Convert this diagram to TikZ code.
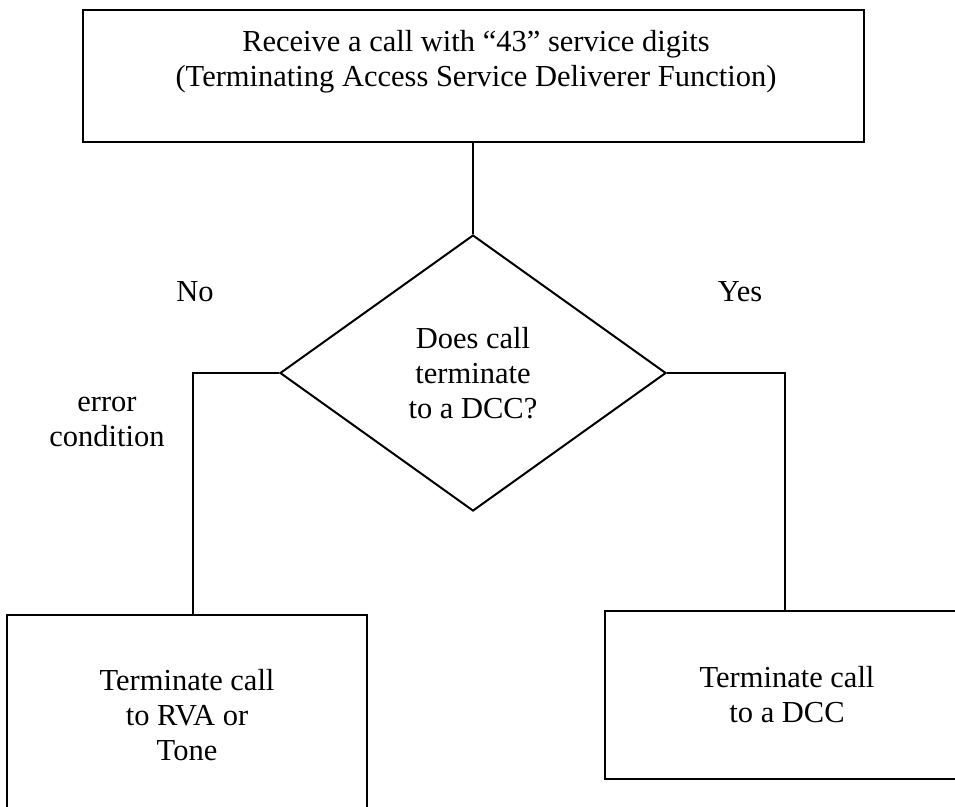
\documentclass[tikz,border=0pt]{standalone}
\usepackage{fontspec}
\setmainfont{Liberation Serif}
\usetikzlibrary{shapes.geometric}
\begin{document}
\begin{tikzpicture}[x=1pt,y=-1pt,
  every node/.style={font=\fontsize{30.5}{35}\selectfont},
  frame/.style={draw, line width=2pt, rectangle, inner sep=0pt, align=center},
  decision/.style={draw, line width=2pt, diamond, inner sep=0pt, align=center,
                   minimum width=386pt, minimum height=276pt},
  caption/.style={align=center, inner sep=0pt},
  link/.style={line width=2pt}]
\useasboundingbox (0,0) rectangle (955,806);

% entry box and its two-line caption
\node[frame, minimum width=781pt, minimum height=132pt] (start) at (473,76) {};
\node[caption] (starttext) at (476,62)
  {Receive a call with “43” service digits\\(Terminating Access Service Deliverer Function)};

% decision
\node[decision] (ask) at (473,373) {Does call\\terminate\\to a DCC?};

% outcomes
\node[frame, minimum width=360pt, minimum height=200pt] (tone) at (187,715)
  {Terminate call\\to RVA or\\Tone};
\node[frame, minimum width=364pt, minimum height=168pt] (dcc) at (787,695)
  {Terminate call\\to a DCC};

% branch labels
\node[caption] (nolabel) at (195,292) {No};
\node[caption] (yeslabel) at (740,292) {Yes};
\node[caption] (errlabel) at (107,422) {error\\condition};

% connectors
\coordinate (noturn) at (193,373);
\coordinate (yesturn) at (785,373);
\draw[link] (start.south) -- (ask.north);
\draw[link] (ask.west) -- (noturn) -- (noturn |- tone.north);
\draw[link] (ask.east) -- (yesturn) -- (yesturn |- dcc.north);
\end{tikzpicture}
\end{document}
